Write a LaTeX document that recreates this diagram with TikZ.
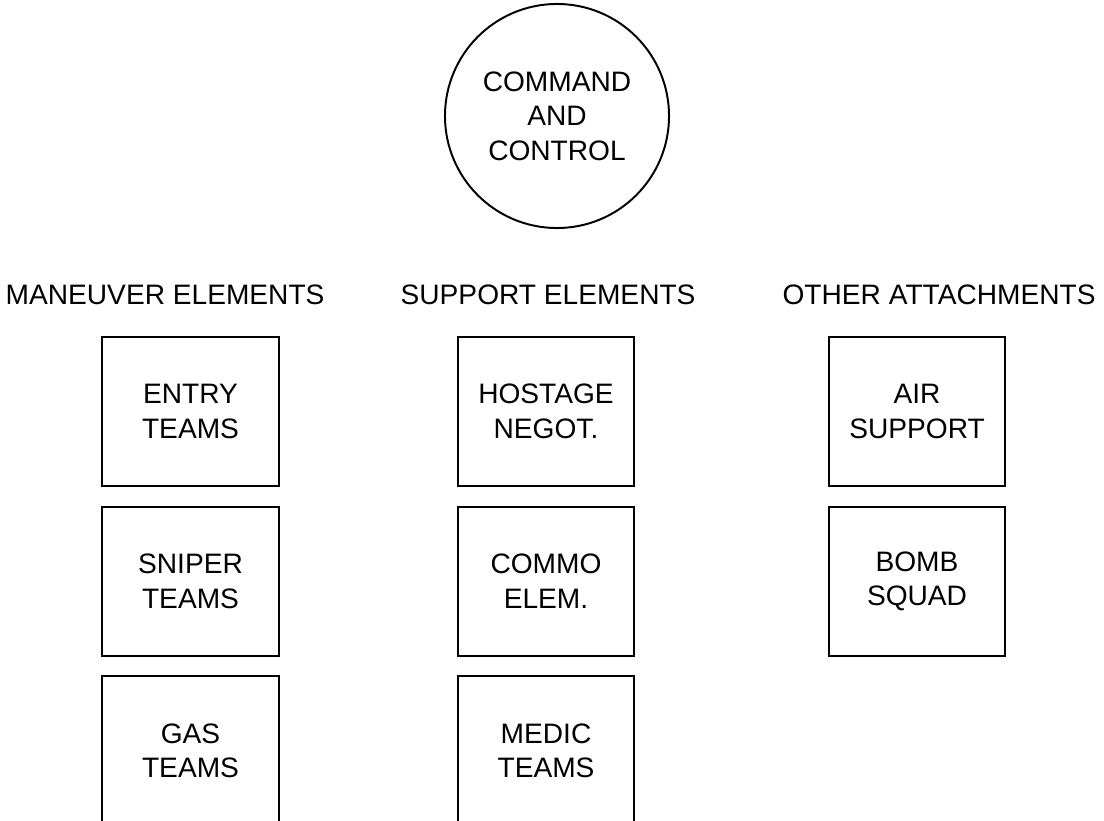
\documentclass[tikz,border=0pt]{standalone}
\usepackage{fontspec}
\setmainfont{Liberation Sans}
\usetikzlibrary{positioning}

\begin{document}
\begin{tikzpicture}[%
    x=0.025cm, y=-0.025cm,       % one unit is one pixel of the original
    node distance=4.7mm,         % gap between stacked boxes
    ]

\tikzset{
  base/.style={align=center, font=\fontsize{20}{24.5}\selectfont, inner sep=0pt},
  unit/.style={base, draw, line width=1.4pt, minimum width=4.4cm, minimum height=3.72cm},
  cmd/.style={base, draw, circle, line width=1.4pt, minimum size=5.6cm}
  };

\useasboundingbox (0,0) rectangle (1104,821);

% COMMAND
\node[cmd] (command) at (557,116) { COMMAND\\AND\\CONTROL };

% Headings
\node[base] (maneuver) at (169,295) { MANEUVER ELEMENTS };
\node[base] (support)  at (552,295) { SUPPORT ELEMENTS };
\node[base] (other)    at (943,295) { OTHER ATTACHMENTS };

% MANEUVER column
\node[unit] (entry) at (190.5,411.5) { ENTRY\\TEAMS };
\node[unit, below=of entry] (sniper) { SNIPER\\TEAMS };
\node[unit, below=of sniper] (gas) { GAS\\TEAMS };

% SUPPORT column
\node[unit] (hostage) at (546,411.5) { HOSTAGE\\NEGOT. };
\node[unit, below=of hostage] (commo) { COMMO\\ELEM. };
\node[unit, below=of commo] (medic) { MEDIC\\TEAMS };

% OTHER column
\node[unit] (air) at (917,411.5) { AIR\\SUPPORT };
\node[unit, below=of air] (bomb) { BOMB\\SQUAD };

\end{tikzpicture}
\end{document}
